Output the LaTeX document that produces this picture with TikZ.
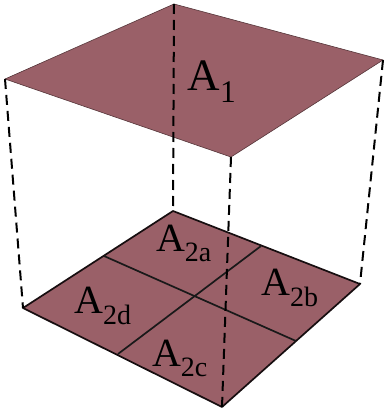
\documentclass[tikz,border=0pt]{standalone}
\usepackage{fontspec}
\setmainfont{Liberation Serif}
\definecolor{plaque}{RGB}{154,96,104}
\begin{document}
\begin{tikzpicture}[x=1pt,y=-1pt]
	% Styles
	\tikzstyle{face}=[fill=plaque,draw=black!45!plaque,line width=0.6pt,line join=round]
	\tikzstyle{base}=[fill=plaque,draw=black!85!plaque,line width=1.7pt,line join=round]
	\tikzstyle{trait}=[black!90,line width=1.7pt]
	\tikzstyle{pointille}=[black,line width=2pt,dash pattern=on 10pt off 6pt]
	\tikzstyle{etiquette}=[inner sep=0pt,font=\fontsize{40}{40}\selectfont]
	% Cadre
	\useasboundingbox (0,0) rectangle (384,414);
	% Sommets du haut
	\coordinate (Hf) at (174,4);
	\coordinate (Hg) at (5,79);
	\coordinate (Hd) at (383,60);
	\coordinate (Hv) at (231,157);
	% Sommets du bas
	\coordinate (Bf) at (173,211);
	\coordinate (Bg) at (23,308);
	\coordinate (Bd) at (360,284);
	\coordinate (Bv) at (222,407);
	% Milieux du bas
	\coordinate (Mfd) at (261,246);
	\coordinate (Mfg) at (104,256);
	\coordinate (Mdv) at (296,341);
	\coordinate (Mgv) at (118,354);
	% Faces
	\draw[face] (Hf)--(Hd)--(Hv)--(Hg)--cycle;
	\draw[base] (Bf)--(Bd)--(Bv)--(Bg)--cycle;
	\draw[trait] (Mfd)--(Mgv);
	\draw[trait] (Mfg)--(Mdv);
	% Aretes
	\draw[pointille] (Hf)--(Bf);
	\draw[pointille] (Hg)--(Bg);
	\draw[pointille] (Hd)--(Bd);
	\draw[pointille] (Hv)--(Bv);
	% Etiquettes
	\node[etiquette,font=\fontsize{45}{45}\selectfont] (A1) at (212,82) {A\textsubscript{1}};
	\node[etiquette] (A2a) at (184,243) {A\textsubscript{2a}};
	\node[etiquette] (A2b) at (290,288) {A\textsubscript{2b}};
	\node[etiquette] (A2c) at (180,358) {A\textsubscript{2c}};
	\node[etiquette] (A2d) at (103,306) {A\textsubscript{2d}};
\end{tikzpicture}
\end{document}
